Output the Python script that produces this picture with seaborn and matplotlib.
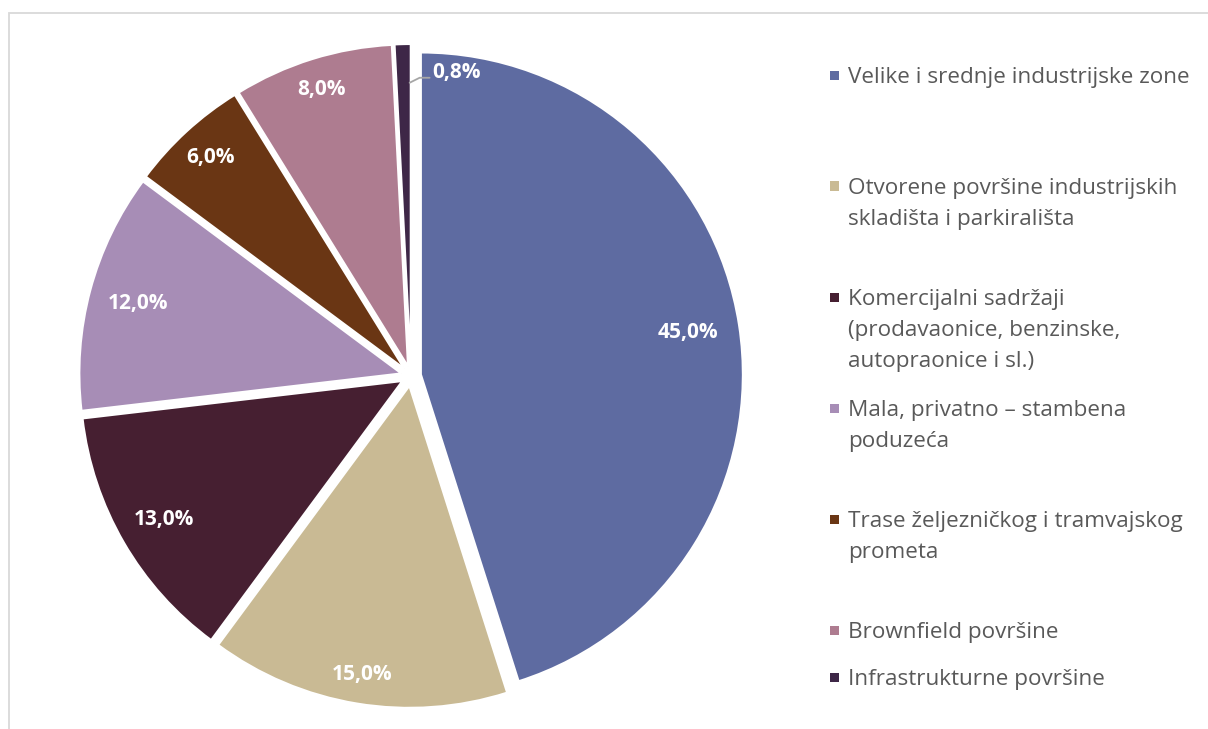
import numpy as np
import matplotlib
matplotlib.use("Agg")
import matplotlib.pyplot as plt
from matplotlib.patches import Rectangle
import seaborn as sns

# Shares of land-use categories (%)
categories = [
    "Velike i srednje industrijske zone",
    "Otvorene površine industrijskih\nskladišta i parkirališta",
    "Komercijalni sadržaji\n(prodavaonice, benzinske,\nautopraonice i sl.)",
    "Mala, privatno – stambena\npoduzeća",
    "Trase željezničkog i tramvajskog\nprometa",
    "Brownfield površine",
    "Infrastrukturne površine",
]
shares = [45.0, 15.0, 13.0, 12.0, 6.0, 8.0, 0.8]
value_labels = ["45,0%", "15,0%", "13,0%", "12,0%", "6,0%", "8,0%", "0,8%"]

sns.set_theme(style="white")
plt.rcParams["font.family"] = ["Open Sans", "DejaVu Sans"]

colors = sns.color_palette(["#5E6BA1", "#C9BA94", "#461F31", "#A78DB6",
                            "#6A3614", "#AE7C90", "#3E2747"])

W, H, DPI = 1208, 729, 100
fig = plt.figure(figsize=(W / DPI, H / DPI), dpi=DPI)
fig.patch.set_facecolor("white")

# chart-area frame
fig.patches.append(Rectangle((8.5 / W, -0.05), 1.1, 1 - 12.5 / H + 0.05,
                             transform=fig.transFigure, fill=False,
                             edgecolor="#D9D9D9", linewidth=1.3))

# axes in which one data unit equals the pie radius
R = 322.0
cx, cy = 411.0, 376.0
ax = fig.add_axes([0, 0, 1, 1])
explode = [0.031] * len(shares)
wedges, _ = ax.pie(shares, colors=colors, startangle=90, counterclock=False,
                   explode=explode, radius=1.0,
                   wedgeprops=dict(edgecolor="white", linewidth=1.5))
ax.set_xlim(-cx / R, (W - cx) / R)
ax.set_ylim(-(H - cy) / R, cy / R)
ax.set_aspect("auto")
ax.axis("off")

# value labels inside the slices
label_r = [0.84, 0.91, 0.855, 0.845, 0.89, 0.90]
for w, txt, r in zip(wedges[:6], value_labels[:6], label_r):
    ang = np.deg2rad((w.theta1 + w.theta2) / 2)
    ox, oy = w.center
    ax.text(ox + r * np.cos(ang), oy + r * np.sin(ang), txt,
            ha="center", va="center", color="white",
            fontsize=15, fontweight="bold")

# small slice: label with leader line
w = wedges[6]
ang = np.deg2rad((w.theta1 + w.theta2) / 2)
ox, oy = w.center
px, py = ox + 0.88 * np.cos(ang), oy + 0.88 * np.sin(ang)
ax.plot([px + 6 / R, px + 16 / R, px + 26 / R], [py, py + 5 / R, py + 5 / R],
        color="#A6A6A6", linewidth=1.3)
ax.text(px + 29 / R, py + 10 / R, value_labels[6], ha="left", va="center",
        color="white", fontsize=15, fontweight="bold")

# legend
legend_y = [75, 186, 297, 408, 519, 630, 677]
line_h = 31
for cat, col, y in zip(categories, colors, legend_y):
    fig.patches.append(Rectangle((830 / W, 1 - (y + 4.5) / H), 9 / W, 9 / H,
                                 transform=fig.transFigure, facecolor=col,
                                 edgecolor="none"))
    for i, line in enumerate(cat.split("\n")):
        fig.text(848 / W, 1 - (y + i * line_h) / H, line, ha="left",
                 va="center_baseline", color="#595959", fontsize=16.2)

fig.savefig("out.png", dpi=DPI)
